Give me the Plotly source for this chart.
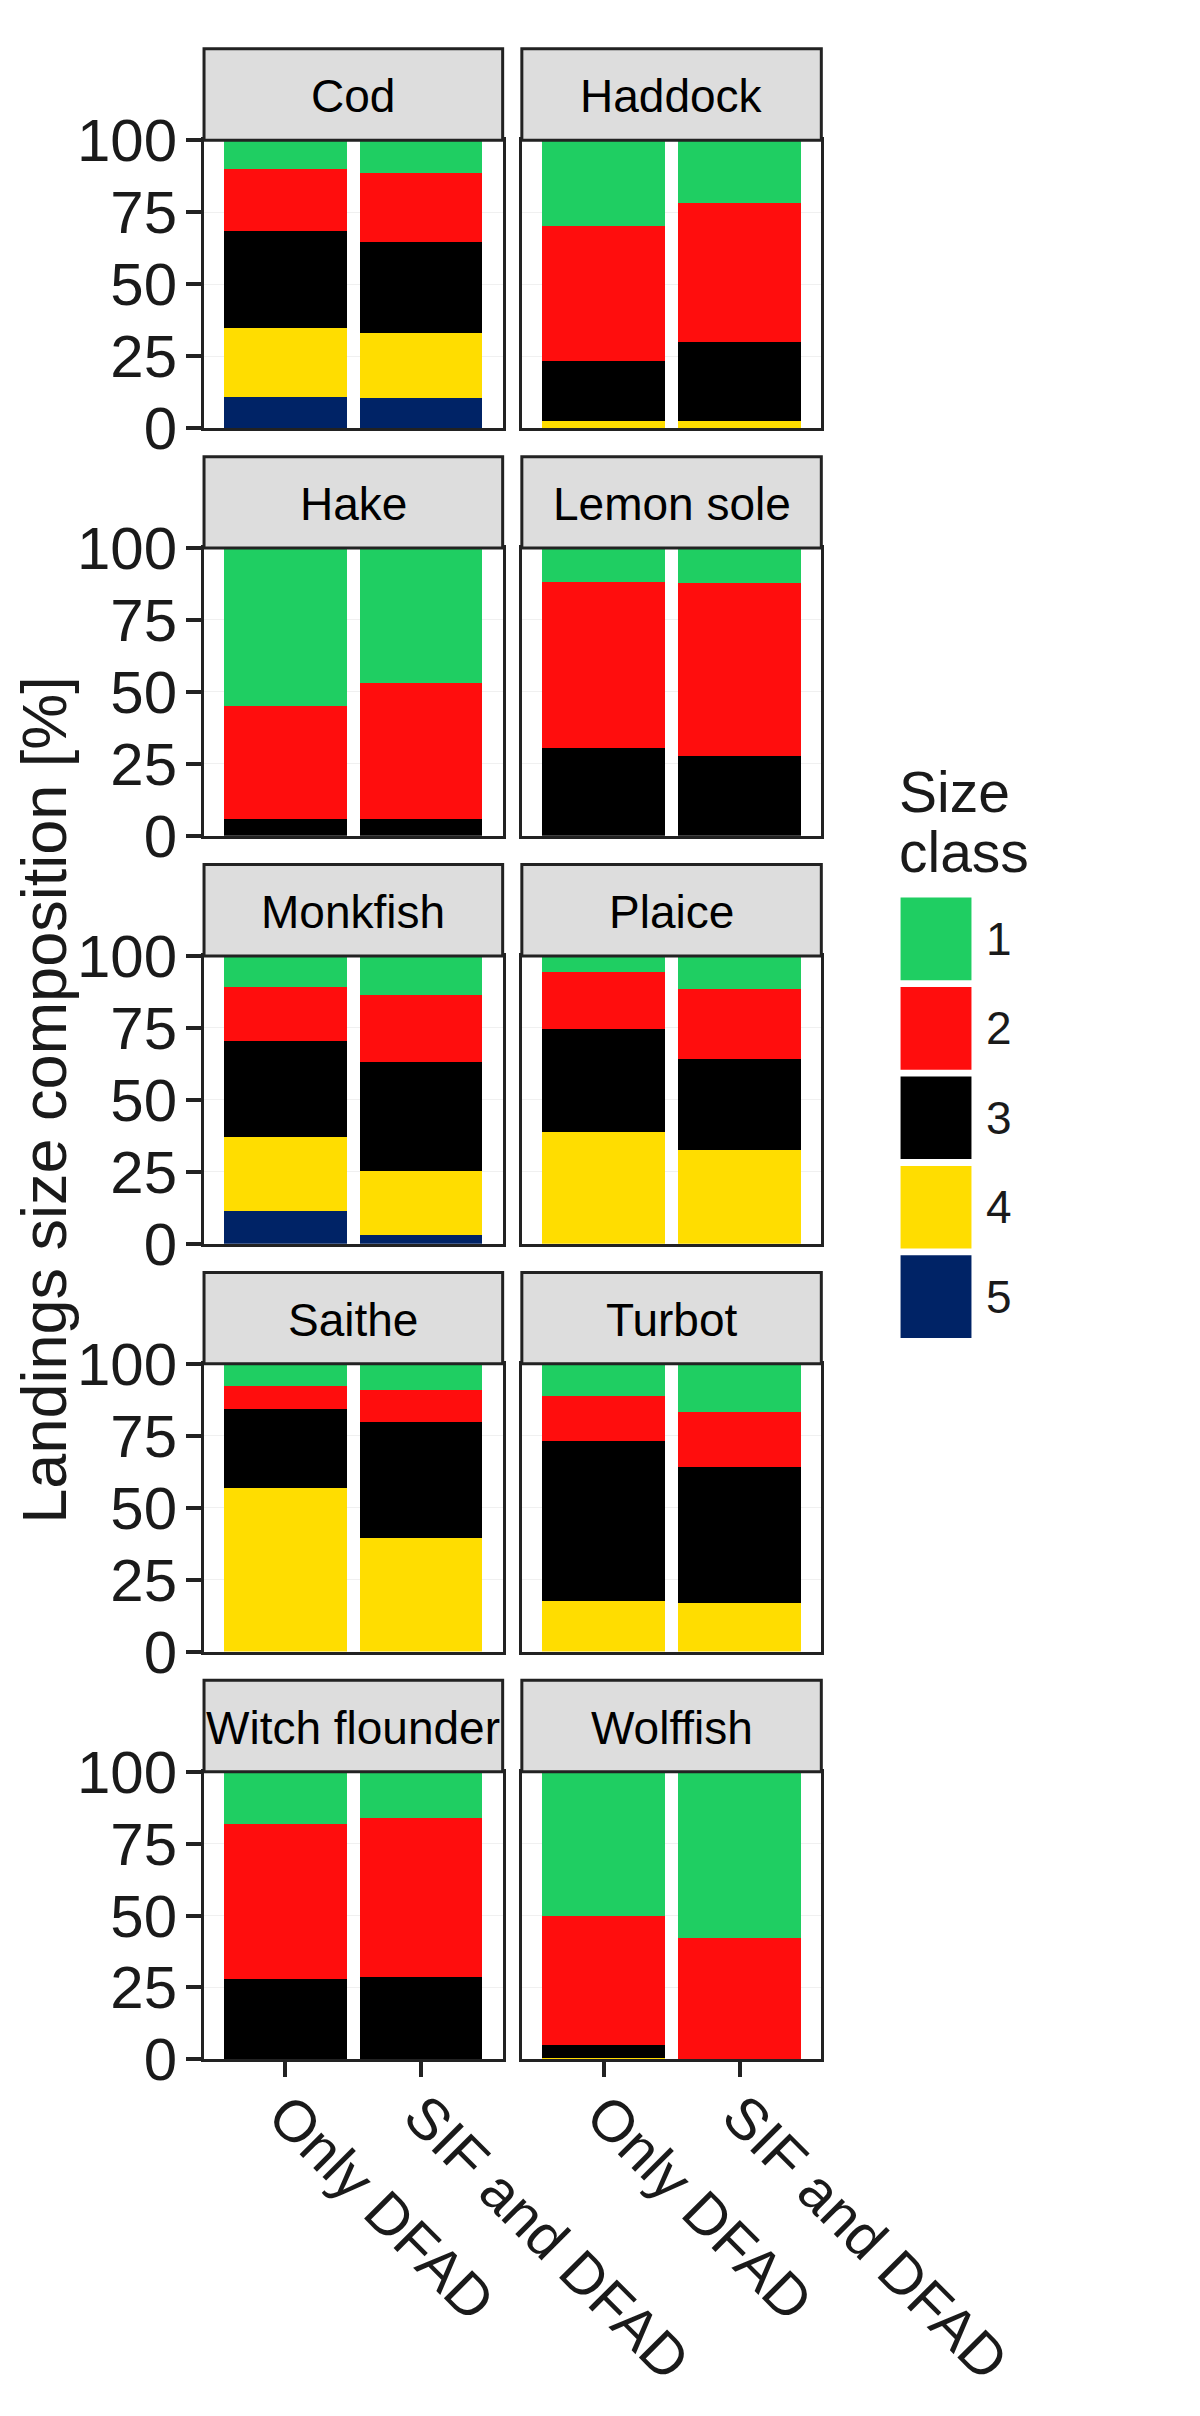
import plotly.graph_objects as go

# ---------------- data ----------------
species = ["Cod", "Haddock", "Hake", "Lemon sole", "Monkfish",
           "Plaice", "Saithe", "Turbot", "Witch flounder", "Wolffish"]
sources = ["Only DFAD", "SIF and DFAD"]
size_classes = ["1", "2", "3", "4", "5"]
class_colors = ["#1FCE62", "#FF0D0D", "#000000", "#FFDD00", "#002366"]

# share [%] per species (order of `species`), for each source
c1_only = [10.0, 29.9, 54.8, 11.7, 10.9, 5.7, 7.8, 11.2, 18.1, 50.0]
c1_sif  = [11.3, 21.9, 47.0, 12.2, 13.5, 11.5, 9.1, 16.7, 16.1, 57.7]
c2_only = [21.6, 46.7, 39.5, 57.7, 18.8, 19.8, 7.8, 15.6, 54.0, 45.0]
c2_sif  = [24.0, 48.2, 47.3, 60.0, 23.5, 24.4, 11.2, 19.0, 55.2, 42.0]
c3_only = [33.5, 20.9, 5.7, 30.6, 33.1, 35.7, 27.4, 55.8, 27.9, 4.6]
c3_sif  = [31.7, 27.4, 5.7, 27.8, 37.7, 31.5, 40.1, 47.3, 28.7, 0.3]
c4_only = [24.0, 2.5, 0.0, 0.0, 25.7, 38.8, 57.0, 17.4, 0.0, 0.4]
c4_sif  = [22.6, 2.5, 0.0, 0.0, 22.2, 32.6, 39.6, 17.0, 0.0, 0.0]
c5_only = [10.9, 0.0, 0.0, 0.0, 11.5, 0.0, 0.0, 0.0, 0.0, 0.0]
c5_sif  = [10.4, 0.0, 0.0, 0.0, 3.1, 0.0, 0.0, 0.0, 0.0, 0.0]

only_vals = [c1_only, c2_only, c3_only, c4_only, c5_only]
sif_vals = [c1_sif, c2_sif, c3_sif, c4_sif, c5_sif]

y_ticks = [0, 25, 50, 75, 100]
y_title = "Landings size composition [%]"
legend_title = ["Size", "class"]

# ---------------- layout geometry (pixels) ----------------
W, H = 1200, 2416
FONT = "Liberation Sans, Arial, sans-serif"
INK = "#1a1a1a"
col_x = [(235, 593), (616, 975)]
row_top0 = 102.0
row_pitch = 419.5
panel_h = 296.0
strip_h = 94.0


def px_x(x):
    return x / W


def px_y(y):
    return 1 - y / H


fig = go.Figure()
shapes = []
annotations = []
layout_axes = {}

for i, sp in enumerate(species):
    r, c = divmod(i, 2)
    xl, xr = col_x[c]
    yt = row_top0 + r * row_pitch
    yb = yt + panel_h
    n = "" if i == 0 else str(i + 1)
    xa, ya = "x" + n, "y" + n

    # stacked bars: class 5 at bottom ... class 1 on top
    for k in range(4, -1, -1):
        fig.add_trace(go.Bar(
            x=sources,
            y=[only_vals[k][i], sif_vals[k][i]],
            xaxis=xa, yaxis=ya,
            marker=dict(color=class_colors[k], line=dict(width=0)),
            name=size_classes[k],
            showlegend=False,
        ))

    bottom = r == 4
    left = c == 0
    layout_axes["xaxis" + n] = dict(
        domain=[px_x(xl), px_x(xr)], anchor=ya,
        type="category", categoryorder="array", categoryarray=sources,
        range=[-0.6, 1.6], showgrid=False, zeroline=False,
        showline=True, mirror=True, linecolor="#222222", linewidth=3,
        ticks="outside" if bottom else "", ticklen=15, tickwidth=4,
        tickcolor="#222222",
        showticklabels=bottom, tickangle=45,
        tickfont=dict(family=FONT, size=58, color=INK),
        ticklabelstandoff=-19,
    )
    layout_axes["yaxis" + n] = dict(
        domain=[px_y(yb), px_y(yt)], anchor=xa,
        range=[0, 100], tickvals=y_ticks,
        showgrid=True, gridcolor="#F0F0F0", gridwidth=1, zeroline=False,
        showline=True, mirror=True, linecolor="#222222", linewidth=3,
        ticks="outside" if left else "", ticklen=15, tickwidth=4,
        tickcolor="#222222",
        showticklabels=left,
        tickfont=dict(family=FONT, size=60, color=INK),
        ticklabelstandoff=-3,
    )

    # strip
    shapes.append(dict(type="rect", xref="paper", yref="paper",
                       x0=px_x(xl), x1=px_x(xr),
                       y0=px_y(yt), y1=px_y(yt - strip_h),
                       fillcolor="#DDDDDD",
                       line=dict(color="#222222", width=3), layer="above"))
    annotations.append(dict(text=sp, xref="paper", yref="paper",
                            x=px_x((xl + xr) / 2), y=px_y(yt - strip_h / 2 + 2),
                            xanchor="center", yanchor="middle", showarrow=False,
                            font=dict(family=FONT, size=46, color="#000000")))

# y-axis title
annotations.append(dict(text=y_title, xref="paper", yref="paper",
                        x=px_x(43), y=px_y((row_top0 + 4 * row_pitch + panel_h + row_top0) / 2),
                        xanchor="center", yanchor="middle", textangle=-90,
                        showarrow=False,
                        font=dict(family=FONT, size=63, color=INK)))

# legend (drawn as keys + labels)
annotations.append(dict(text=legend_title[0], xref="paper", yref="paper",
                        x=px_x(1066), y=px_y(772), xanchor="left", yanchor="middle",
                        showarrow=False, font=dict(family=FONT, size=57, color=INK)))
annotations.append(dict(text=legend_title[1], xref="paper", yref="paper",
                        x=px_x(1066), y=px_y(834), xanchor="left", yanchor="middle",
                        showarrow=False, font=dict(family=FONT, size=57, color=INK)))
key_top0, key_pitch, key_size = 881, 92, 85
for k, lab in enumerate(size_classes):
    kt = key_top0 + k * key_pitch
    shapes.append(dict(type="rect", xref="paper", yref="paper",
                       x0=px_x(1070), x1=px_x(1070 + key_size),
                       y0=px_y(kt + key_size), y1=px_y(kt),
                       fillcolor=class_colors[k], line=dict(width=0)))
    annotations.append(dict(text=lab, xref="paper", yref="paper",
                            x=px_x(1170), y=px_y(kt + key_size / 2),
                            xanchor="left", yanchor="middle", showarrow=False,
                            font=dict(family=FONT, size=46, color=INK)))

fig.update_layout(
    width=W, height=H,
    margin=dict(l=0, r=0, t=0, b=0),
    paper_bgcolor="white", plot_bgcolor="white",
    barmode="stack", bargap=0.1,
    showlegend=False,
    shapes=shapes, annotations=annotations,
    font=dict(family=FONT, color=INK),
    **layout_axes,
)

fig.write_html("out.html")
